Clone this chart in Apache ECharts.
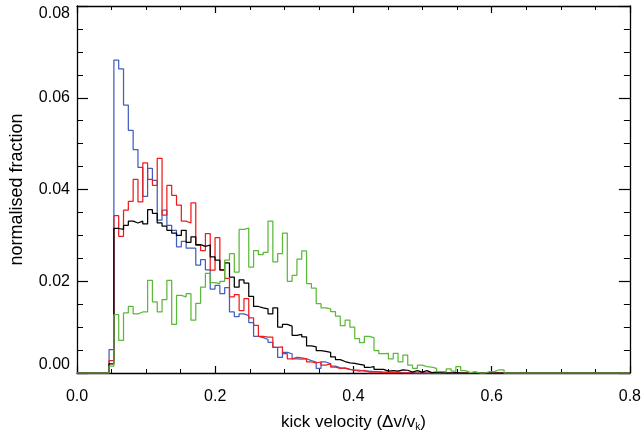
<!DOCTYPE html>
<html>
<head>
<meta charset="utf-8">
<script src="https://cdn.jsdelivr.net/npm/echarts@6/dist/echarts.min.js"></script>
<style>
html,body{margin:0;padding:0;background:#fff;}
#chart{width:644px;height:437px;}
</style>
</head>
<body>
<div id="chart"></div>
<script>
// Histogram bins (kick velocity, Δv/v_k)
const binStart = 0.0464;
const binWidth = 0.00697;
const xTicks = [0.0, 0.2, 0.4, 0.6, 0.8];
const yTicks = [0.00, 0.02, 0.04, 0.06, 0.08];

const blueVals = [0.0051,0.0682,0.0663,0.0584,0.0529,0.0487,0.0448,0.0385,0.0446,0.0420,
 0.0333,0.0355,0.0322,0.0311,0.0275,0.0287,0.0272,0.0272,0.0235,0.0247,
 0.0225,0.0183,0.0191,0.0173,0.0186,0.0133,0.0123,0.0129,0.0125,0.0110,
 0.0080,0.0077,0.0073,0.0067,0.0056,0.0034,0.0045,0.0042,0.0031,0.0030,
 0.0031,0.0027,0.0024,0.0010,0.0024,0.0020,0.0015,0.0011,0.0010,0.0008,
 0.0006,0.0006,0.0004,0.0004,0.0003,0.0003,0.0002,0.0002,0.0001,0.0002,
 0.0001,0.0001,0.0001,0,0.0001,0,0,0,0,0,
 0,0,0,0,0,0,0,0,0,0,
 0,0];

const redVals = [0.0027,0.0343,0.0298,0.0355,0.0374,0.0422,0.0373,0.0458,0.0422,0.0409,
 0.0468,0.0344,0.0409,0.0387,0.0366,0.0331,0.0327,0.0371,0.0278,0.0267,
 0.0304,0.0224,0.0295,0.0224,0.0206,0.0166,0.0171,0.0136,0.0162,0.0120,
 0.0104,0.0080,0.0078,0.0078,0.0056,0.0057,0.0042,0.0031,0.0034,0.0033,
 0.0031,0.0024,0.0022,0.0024,0.0017,0.0020,0.0013,0.0010,0.0011,0.0008,
 0.0006,0.0004,0.0006,0.0002,0.0002,0.0002,0.0001,0.0001,0.0001,0.0001,
 0,0.0001,0,0,0,0,0,0,0,0,
 0,0,0,0,0,0,0,0,0,0,
 0,0];

const blackVals = [0.0020,0.0315,0.0313,0.0322,0.0331,0.0327,0.0331,0.0325,0.0356,0.0348,
 0.0327,0.0320,0.0311,0.0305,0.0300,0.0311,0.0285,0.0297,0.0280,0.0276,
 0.0279,0.0253,0.0246,0.0225,0.0240,0.0209,0.0187,0.0203,0.0196,0.0167,
 0.0145,0.0142,0.0140,0.0129,0.0142,0.0100,0.0106,0.0102,0.0082,0.0084,
 0.0079,0.0059,0.0057,0.0049,0.0047,0.0045,0.0035,0.0029,0.0025,0.0022,
 0.0021,0.0019,0.0017,0.0012,0.0014,0.0008,0.0008,0.0004,0.0005,0.0004,
 0.0007,0.0006,0.0002,0.0005,0.0002,0.0005,0.0001,0.0002,0.0001,0,
 0,0.0001,0,0,0,0,0,0,0,0,
 0,0];

const greenVals = [0.0015,0.0127,0.0071,0.0131,0.0145,0.0129,0.0133,0.0133,0.0202,0.0155,
 0.0133,0.0160,0.0202,0.0106,0.0169,0.0166,0.0173,0.0115,0.0152,0.0187,
 0.0217,0.0197,0.0195,0.0200,0.0246,0.0260,0.0220,0.0313,0.0316,0.0231,
 0.0267,0.0258,0.0263,0.0331,0.0242,0.0260,0.0305,0.0200,0.0213,0.0248,
 0.0266,0.0195,0.0185,0.0151,0.0142,0.0140,0.0134,0.0124,0.0103,0.0115,
 0.0100,0.0075,0.0066,0.0080,0.0077,0.0049,0.0042,0.0043,0.0031,0.0043,
 0.0024,0.0039,0.0017,0.0010,0.0017,0.0014,0.0013,0.0010,0.0003,0.0003,
 0.0009,0.0004,0.0014,0.0005,0.0001,0.0003,0,0,0.0003,0.0003,
 0.0007,0.0007];

const xMin = xTicks[0], xMax = xTicks[xTicks.length - 1];
const yMin = yTicks[0], yMax = yTicks[yTicks.length - 1];

function toSteps(vals) {
  const pts = [[xMin, 0]];
  for (let i = 0; i < vals.length; i++) {
    pts.push([binStart + i * binWidth, vals[i]]);
  }
  pts.push([binStart + vals.length * binWidth, 0]);
  pts.push([xMax, 0]);
  return pts;
}

const FONT = "'Liberation Sans', Arial, Helvetica, sans-serif";

function stepSeries(name, vals, color) {
  return {
    name: name, type: 'line', step: 'end', data: toSteps(vals),
    showSymbol: false, symbol: 'none',
    lineStyle: { color: color, width: 1.25 },
    z: 3
  };
}

function axisBase(extra) {
  return Object.assign({
    type: 'value',
    axisLine: { show: true, onZero: false, lineStyle: { color: '#000', width: 1.3 } },
    splitLine: { show: false },
    minorSplitLine: { show: false }
  }, extra);
}

const chart = echarts.init(document.getElementById('chart'), null, { renderer: 'canvas' });
chart.setOption({
  animation: false,
  backgroundColor: '#fff',
  grid: { left: 77, right: 13, top: 6, bottom: 64, containLabel: false },
  xAxis: [
    axisBase({
      position: 'bottom', min: xMin, max: xMax, interval: 0.2,
      axisTick: { show: true, inside: true, length: 7, lineStyle: { color: '#000', width: 1.2 } },
      minorTick: { show: true, splitNumber: 4, length: 4, lineStyle: { color: '#000', width: 1 } },
      axisLabel: { show: true, margin: 16, fontSize: 16, color: '#000', fontFamily: FONT,
        formatter: v => v.toFixed(1) },
      name: 'kick velocity (Δv/v{sub|k})',
      nameLocation: 'middle', nameGap: 40,
      nameTextStyle: { fontSize: 17, color: '#000', fontFamily: FONT,
        rich: { sub: { fontSize: 10, color: '#000', fontFamily: FONT, verticalAlign: 'bottom', padding: [9, 0, 0, 0] } } }
    }),
    axisBase({
      position: 'top', min: xMin, max: xMax, interval: 0.2,
      axisTick: { show: true, inside: true, length: 7, lineStyle: { color: '#000', width: 1.2 } },
      minorTick: { show: true, splitNumber: 4, length: 4, lineStyle: { color: '#000', width: 1 } },
      axisLabel: { show: false }
    })
  ],
  yAxis: [
    axisBase({
      position: 'left', min: yMin, max: yMax, interval: 0.02,
      axisTick: { show: true, inside: true, length: 11, lineStyle: { color: '#000', width: 1.2 } },
      minorTick: { show: true, splitNumber: 4, length: 6, lineStyle: { color: '#000', width: 1 } },
      axisLabel: { show: true, margin: 7, fontSize: 16, color: '#000', fontFamily: FONT,
        formatter: v => v.toFixed(2),
        verticalAlignMinLabel: 'bottom', verticalAlignMaxLabel: 'top' },
      name: 'normalised fraction',
      nameLocation: 'middle', nameGap: 51,
      nameTextStyle: { fontSize: 18, color: '#000', fontFamily: FONT }
    }),
    axisBase({
      position: 'right', min: yMin, max: yMax, interval: 0.02,
      axisTick: { show: true, inside: true, length: 11, lineStyle: { color: '#000', width: 1.2 } },
      minorTick: { show: true, splitNumber: 4, length: 6, lineStyle: { color: '#000', width: 1 } },
      axisLabel: { show: false }
    })
  ],
  series: [
    stepSeries('blue', blueVals, '#3f5fbf'),
    stepSeries('red', redVals, '#ee1c1c'),
    stepSeries('black', blackVals, '#000000'),
    stepSeries('green', greenVals, '#5cb83a')
  ]
});
</script>
</body>
</html>
